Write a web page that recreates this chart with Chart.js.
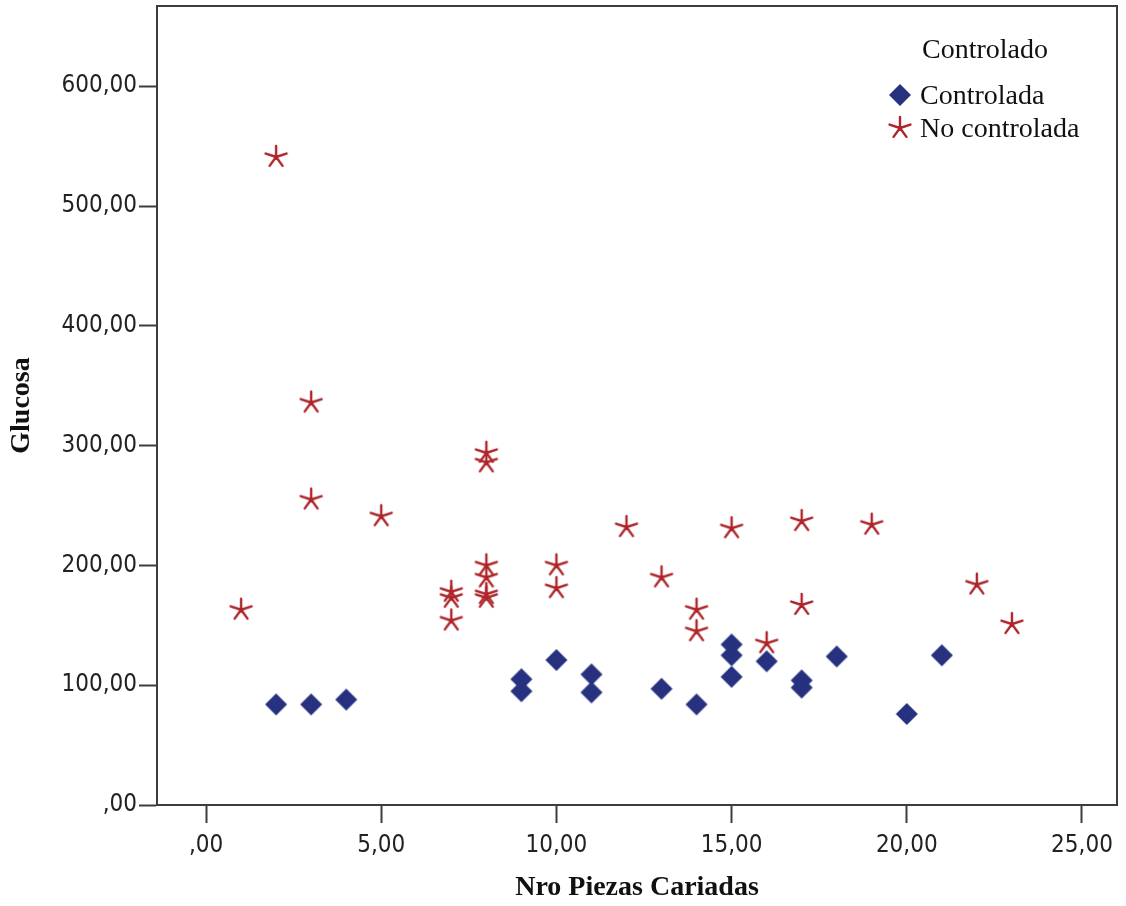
<!DOCTYPE html>
<html>
<head>
<meta charset="utf-8">
<title>Glucosa / Nro Piezas Cariadas</title>
<script src="https://cdn.jsdelivr.net/npm/chart.js@4.4.1/dist/chart.umd.min.js"></script>
<style>
  html, body { margin: 0; padding: 0; background: #fff; }
  #wrap { width: 1126px; height: 906px; }
</style>
</head>
<body>
<div id="wrap"><canvas id="scatter" width="1126" height="906"></canvas></div>
<script>
// Patients with controlled glucose
const controladaX = [2, 3, 4, 9, 9, 10, 11, 11, 13, 14, 15, 15, 15, 16, 17, 17, 18, 20, 21];
const controladaY = [84, 84, 88, 105, 95, 121, 109, 94, 97, 84, 134, 125, 107, 120, 104, 98, 124, 76, 125];

// Patients without glucose control
const noControladaX = [1, 2, 3, 3, 5, 7, 7, 7, 8, 8, 8, 8, 8, 8, 10, 10, 12, 13, 14, 14, 15, 16, 17, 17, 19, 22, 23];
const noControladaY = [163, 541, 336, 255, 241, 178, 173, 154, 294, 286, 200, 190, 176, 173, 200, 181, 232, 190, 163, 145, 231, 135, 237, 167, 234, 184, 151];

const xTicks = [0, 5, 10, 15, 20, 25];
const xTickLabels = [',00', '5,00', '10,00', '15,00', '20,00', '25,00'];
const yTicks = [0, 100, 200, 300, 400, 500, 600];
const yTickLabels = [',00', '100,00', '200,00', '300,00', '400,00', '500,00', '600,00'];

const seriesLabels = ['Controlada', 'No controlada'];
const legendTitle = 'Controlado';

const BLUE = '#26317f';
const RED = '#ae2429';
const AXIS = '#3c3c3c';
const TICK_FONT = '"DejaVu Sans Condensed", "DejaVu Sans", sans-serif';
const SERIF = '"Liberation Serif", "Times New Roman", serif';

function toPoints(xs, ys) {
    return xs.map((x, i) => ({ x: x, y: ys[i] }));
}

// filled diamond marker
function makeDiamond(color, r) {
    const c = document.createElement('canvas');
    const s = 2 * r + 2;
    c.width = s;
    c.height = s;
    const ctx = c.getContext('2d');
    const m = s / 2;
    ctx.fillStyle = color;
    ctx.beginPath();
    ctx.moveTo(m, m - r);
    ctx.lineTo(m + r, m);
    ctx.lineTo(m, m + r);
    ctx.lineTo(m - r, m);
    ctx.closePath();
    ctx.fill();
    return c;
}

// five-armed asterisk marker
function makeStar(color, r) {
    const c = document.createElement('canvas');
    const s = 2 * r + 4;
    c.width = s;
    c.height = s;
    const ctx = c.getContext('2d');
    const m = s / 2;
    ctx.strokeStyle = color;
    ctx.lineWidth = 2.4;
    ctx.lineCap = 'round';
    ctx.beginPath();
    for (let k = 0; k < 5; k++) {
        const a = -Math.PI / 2 + k * 2 * Math.PI / 5;
        ctx.moveTo(m, m);
        ctx.lineTo(m + r * Math.cos(a), m + r * Math.sin(a));
    }
    ctx.stroke();
    return c;
}

const diamond = makeDiamond(BLUE, 11);
const star = makeStar(RED, 11);

// top and right lines of the plot frame
const framePlugin = {
    id: 'frame',
    beforeDatasetsDraw(chart) {
        const { ctx, chartArea } = chart;
        ctx.save();
        ctx.strokeStyle = AXIS;
        ctx.lineWidth = 2;
        ctx.beginPath();
        ctx.moveTo(chartArea.left, chartArea.top);
        ctx.lineTo(chartArea.right, chartArea.top);
        ctx.lineTo(chartArea.right, chartArea.bottom);
        ctx.stroke();
        ctx.restore();
    }
};

// legend box drawn inside the upper right corner of the plot
const legendPlugin = {
    id: 'insideLegend',
    afterDatasetsDraw(chart) {
        const { ctx, chartArea } = chart;
        const x0 = chartArea.right - 217;
        ctx.save();
        ctx.font = '28px ' + SERIF;
        ctx.fillStyle = '#111';
        ctx.textBaseline = 'middle';
        ctx.textAlign = 'left';
        ctx.fillText(legendTitle, x0 + 22, 51);
        chart.data.datasets.forEach((ds, i) => {
            const y = 97 + i * 33;
            const img = ds.pointStyle;
            ctx.drawImage(img, x0 - img.width / 2, y - 2 - img.height / 2);
            ctx.fillText(ds.label, x0 + 20, y);
        });
        ctx.restore();
    }
};

new Chart(document.getElementById('scatter'), {
    type: 'scatter',
    data: {
        datasets: [
            {
                label: seriesLabels[0],
                data: toPoints(controladaX, controladaY),
                pointStyle: diamond,
                backgroundColor: BLUE,
                borderColor: BLUE
            },
            {
                label: seriesLabels[1],
                data: toPoints(noControladaX, noControladaY),
                pointStyle: star,
                backgroundColor: RED,
                borderColor: RED
            }
        ]
    },
    options: {
        responsive: false,
        animation: false,
        events: [],
        layout: { padding: { top: 6, right: 9, left: 0, bottom: 0 } },
        plugins: {
            legend: { display: false },
            tooltip: { enabled: false }
        },
        scales: {
            x: {
                type: 'linear',
                min: -1.4,
                max: 26,
                afterBuildTicks(scale) {
                    scale.ticks = xTicks.map(v => ({ value: v }));
                },
                afterFit(scale) {
                    scale.height = 101;
                    scale.paddingLeft = 0;
                    scale.paddingRight = 0;
                },
                ticks: {
                    padding: 8,
                    color: '#222',
                    font: { family: TICK_FONT, size: 24 },
                    callback: v => xTickLabels[xTicks.indexOf(v)]
                },
                grid: {
                    display: true,
                    drawOnChartArea: false,
                    drawTicks: true,
                    tickLength: 18,
                    tickColor: AXIS,
                    tickWidth: 2
                },
                border: { display: true, color: AXIS, width: 2 },
                title: {
                    display: true,
                    text: 'Nro Piezas Cariadas',
                    color: '#111',
                    font: { family: SERIF, size: 28, weight: 'bold' },
                    padding: { top: 0, bottom: 1 }
                }
            },
            y: {
                type: 'linear',
                min: 0,
                max: 667,
                afterBuildTicks(scale) {
                    scale.ticks = yTicks.map(v => ({ value: v }));
                },
                afterFit(scale) {
                    scale.width = 157;
                    scale.paddingTop = 0;
                    scale.paddingBottom = 0;
                },
                ticks: {
                    padding: 2,
                    color: '#222',
                    font: { family: TICK_FONT, size: 24 },
                    callback: v => yTickLabels[yTicks.indexOf(v)]
                },
                grid: {
                    display: true,
                    drawOnChartArea: false,
                    drawTicks: true,
                    tickLength: 18,
                    tickColor: AXIS,
                    tickWidth: 2
                },
                border: { display: true, color: AXIS, width: 2 },
                title: {
                    display: true,
                    text: 'Glucosa',
                    color: '#111',
                    font: { family: SERIF, size: 28, weight: 'bold' },
                    padding: { top: 5, bottom: 0 }
                }
            }
        }
    },
    plugins: [framePlugin, legendPlugin]
});
</script>
</body>
</html>
